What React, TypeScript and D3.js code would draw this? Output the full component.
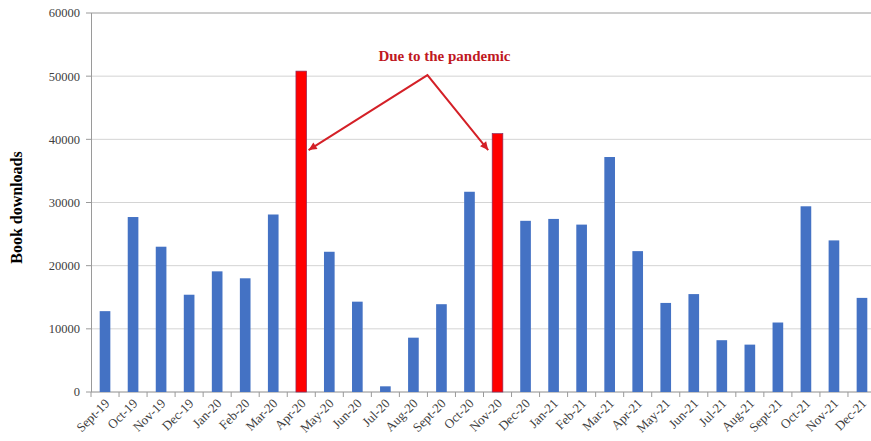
import React from "react";
import * as d3 from "d3";

const months = [
  "Sept-19", "Oct-19", "Nov-19", "Dec-19", "Jan-20", "Feb-20", "Mar-20", "Apr-20",
  "May-20", "Jun-20", "Jul-20", "Aug-20", "Sept-20", "Oct-20", "Nov-20", "Dec-20",
  "Jan-21", "Feb-21", "Mar-21", "Apr-21", "May-21", "Jun-21", "Jul-21", "Aug-21",
  "Sept-21", "Oct-21", "Nov-21", "Dec-21",
];

const downloads = [
  12800, 27700, 23000, 15400, 19100, 18000, 28100, 50800,
  22200, 14300, 900, 8600, 13900, 31700, 40900, 27100,
  27400, 26500, 37200, 22300, 14100, 15500, 8200, 7500,
  11000, 29400, 24000, 14900,
];

const highlighted = ["Apr-20", "Nov-20"];
const yTicks = [0, 10000, 20000, 30000, 40000, 50000, 60000];
const annotation = "Due to the pandemic";

const W = 871;
const H = 441;
const left = 91;
const right = 876;
const top = 13;
const bottom = 392;
const serif = "'Liberation Serif', 'Times New Roman', serif";

export default function App() {
  const x = d3.scaleBand<string>().domain(months).range([left, right]).paddingInner(0.62).paddingOuter(0.31);
  const y = d3.scaleLinear().domain([0, 60000]).range([bottom, top]);
  const step = x.step();
  const bw = x.bandwidth();

  const apr = x("Apr-20")!;
  const nov = x("Nov-20")!;
  const apexX = x("Aug-20")! + bw / 2 + step / 2;
  const apexY = y(50000) - 1;
  const tipY = y(38300);
  const leftTip: [number, number] = [apr + bw + 2, tipY];
  const rightTip: [number, number] = [nov - 4, tipY];

  const arrowHead = (from: [number, number], to: [number, number]) => {
    const ang = Math.atan2(to[1] - from[1], to[0] - from[0]);
    const len = 9;
    const spread = 0.45;
    const p1 = [to[0] - len * Math.cos(ang - spread), to[1] - len * Math.sin(ang - spread)];
    const p2 = [to[0] - len * Math.cos(ang + spread), to[1] - len * Math.sin(ang + spread)];
    return `M${to[0]},${to[1]}L${p1[0]},${p1[1]}L${p2[0]},${p2[1]}Z`;
  };

  const arrowColor = "#d42027";

  return (
    <svg width={W} height={H} style={{ position: "absolute", left: 0, top: 0, background: "#fff" }}>
      {/* gridlines */}
      {yTicks.map((t) => (
        <line key={`g${t}`} x1={left} x2={W} y1={y(t)} y2={y(t)}
          stroke={t === 60000 ? "#9a9a9a" : t === 0 ? "#8c8c8c" : "#d4d4d4"} strokeWidth={1} />
      ))}
      {/* y axis */}
      <line x1={left + 0.5} x2={left + 0.5} y1={top} y2={bottom} stroke="#9a9a9a" />
      {yTicks.map((t) => (
        <g key={`yt${t}`}>
          <line x1={left - 5} x2={left} y1={y(t)} y2={y(t)} stroke="#9a9a9a" />
          <text x={left - 11} y={y(t)} dy="0.35em" textAnchor="end"
            fontFamily={serif} fontSize={12.5} fill="#404040">{t}</text>
        </g>
      ))}
      {/* x axis ticks at category boundaries */}
      {months.map((m, i) => (
        <line key={`xt${m}`} x1={left + i * step} x2={left + i * step} y1={bottom} y2={bottom + 5} stroke="#9a9a9a" />
      ))}
      {/* bars */}
      {months.map((m, i) => {
        const hot = highlighted.includes(m);
        return (
          <rect key={m} x={x(m)} y={y(downloads[i])} width={bw} height={bottom - y(downloads[i])}
            fill={hot ? "#ff0000" : "#4472c4"} stroke={hot ? "#8a2c5c" : "none"} strokeWidth={hot ? 0.7 : 0} />
        );
      })}
      {/* x labels */}
      {months.map((m) => {
        const cx = x(m)! + bw / 2 + 2;
        const cy = bottom + 9;
        return (
          <text key={`xl${m}`} transform={`translate(${cx},${cy}) rotate(-45)`} textAnchor="end"
            dy="0.35em" fontFamily={serif} fontSize={13} fill="#404040">{m}</text>
        );
      })}
      {/* y label */}
      <text transform={`translate(22,${(top + bottom) / 2 + 5}) rotate(-90)`} textAnchor="middle"
        fontFamily={serif} fontWeight="bold" fontSize={16} fill="#000">Book downloads</text>
      {/* annotation */}
      <text x={apexX + 17} y={61} textAnchor="middle" fontFamily={serif} fontWeight="bold"
        fontSize={15} fill="#c0181f">{annotation}</text>
      <path d={`M${leftTip[0]},${leftTip[1]}L${apexX},${apexY}L${rightTip[0]},${rightTip[1]}`}
        fill="none" stroke={arrowColor} strokeWidth={2} />
      <path d={arrowHead([apexX, apexY], leftTip)} fill={arrowColor} />
      <path d={arrowHead([apexX, apexY], rightTip)} fill={arrowColor} />
    </svg>
  );
}
